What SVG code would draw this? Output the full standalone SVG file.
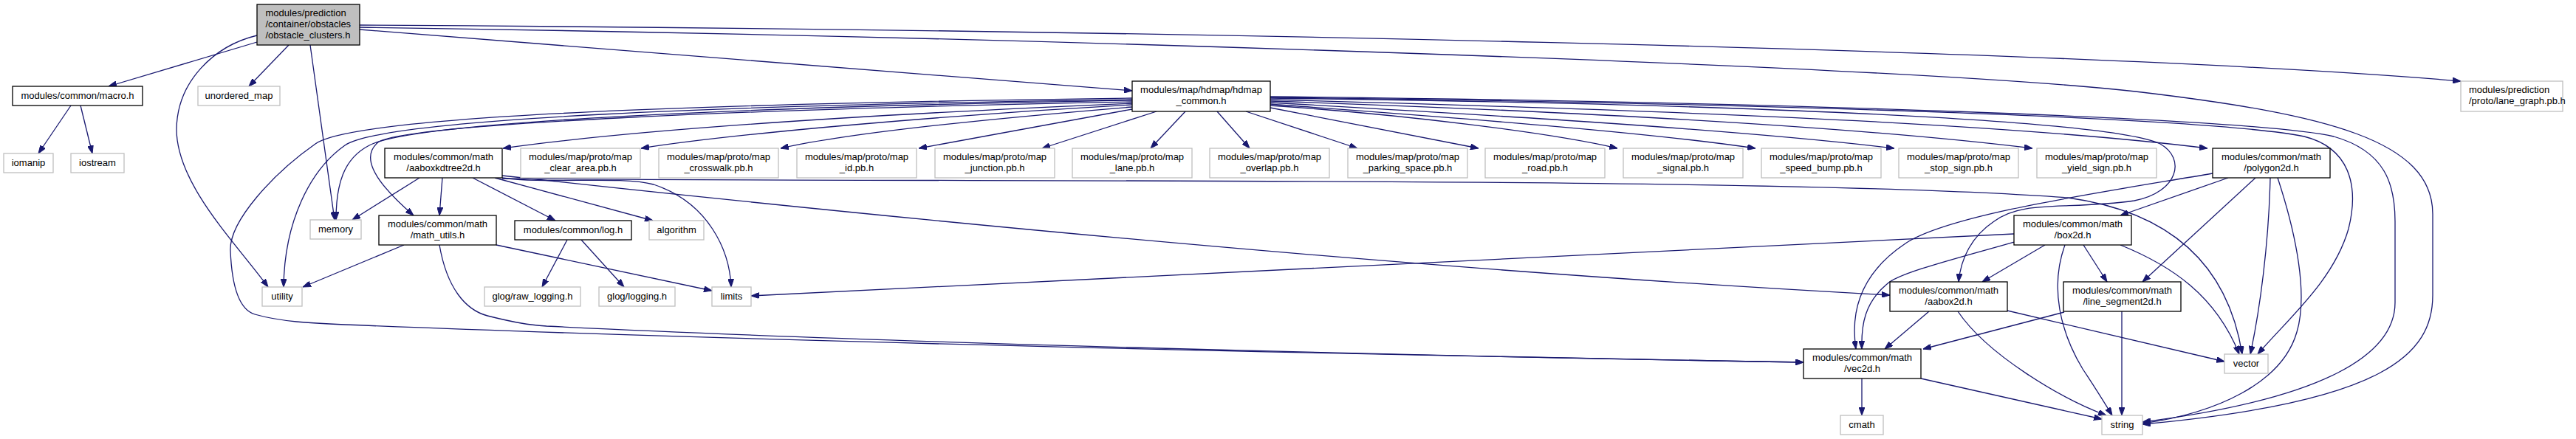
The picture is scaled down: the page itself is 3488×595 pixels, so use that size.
<svg xmlns="http://www.w3.org/2000/svg" width="3488" height="595" viewBox="0 0 3488 595">
<style>
.e{fill:none;stroke:#191970;stroke-width:1.3;marker-end:url(#a)}
.doc{fill:#ffffff;stroke:#000000;stroke-width:1.3}
.ext{fill:#ffffff;stroke:#bfbfbf;stroke-width:1.3}
.root{fill:#bfbfbf;stroke:#000000;stroke-width:1.3}
text{font-family:"Liberation Sans",Arial,Helvetica,sans-serif;font-size:13px;fill:#000000}
.c{text-anchor:middle}
</style>
<defs>
<marker id="a" viewBox="0 0 11 8" refX="11" refY="4" markerWidth="11" markerHeight="8" markerUnits="userSpaceOnUse" orient="auto"><path d="M0,0L11,4L0,8z" fill="#191970" stroke="#191970" stroke-width="1"/></marker>
</defs>
<rect width="3488" height="595" fill="#ffffff"/>
<g id="edges">
<path class="e" d="M348,57 L147,117"/>
<path class="e" d="M391,61 L337,117"/>
<path class="e" d="M420,61 L453,298"/>
<path class="e" d="M348,48 C290,62 240,110 239,175 C239,250 320,330 363,389"/>
<path class="e" d="M487,40 L1533,123"/>
<path class="e" d="M487,34 C1500,40 2800,65 3332,110"/>
<path class="e" d="M487,37 C1400,50 2600,90 2900,125 C3150,155 3294,190 3294,290 L3294,400 C3294,480 3230,545 2901,575"/>
<path class="e" d="M96,143 L52,208"/>
<path class="e" d="M109,143 L125,208"/>
<path class="e" d="M1533,140 C1300,150 900,170 681,201"/>
<path class="e" d="M1533,142 C1300,155 1000,180 868,201"/>
<path class="e" d="M1533,145 C1350,160 1150,180 1057,201"/>
<path class="e" d="M1533,148 L1244,201"/>
<path class="e" d="M1566,151 L1411,201"/>
<path class="e" d="M1605,151 L1558,201"/>
<path class="e" d="M1648,151 L1692,201"/>
<path class="e" d="M1687,151 L1838,201"/>
<path class="e" d="M1720,146 L2002,201"/>
<path class="e" d="M1720,143 C1900,155 2100,180 2190,201"/>
<path class="e" d="M1720,141 C1900,155 2200,175 2377,201"/>
<path class="e" d="M1720,139 C2000,155 2350,175 2565,201"/>
<path class="e" d="M1720,137 C2100,150 2500,170 2752,201"/>
<path class="e" d="M1720,135 C2200,148 2700,165 2989,201"/>
<path class="e" d="M1720,133 C2300,140 2850,160 2925,195 C2960,215 2950,260 2890,272 C2800,285 2740,270 2700,300 C2670,320 2655,350 2652,382"/>
<path class="e" d="M1720,132 C2400,140 3000,160 3120,185 C3180,200 3195,250 3180,310 C3160,380 3100,430 3057,480"/>
<path class="e" d="M1720,131 C2400,138 3050,160 3160,185 C3230,205 3243,250 3243,300 L3243,410 C3243,480 3150,540 2901,572"/>
<path class="e" d="M1533,136 C1000,145 560,165 500,197 C465,215 455,250 455,298"/>
<path class="e" d="M1533,135 C1000,142 520,160 467,197 C420,230 385,300 384,389"/>
<path class="e" d="M1533,138 C1000,148 560,168 513,192 C490,210 500,240 560,292"/>
<path class="e" d="M1533,133 C1000,140 480,155 427,195 C370,235 310,300 312,340 C314,390 325,420 345,426 C380,436 420,438 467,440 C1000,462 1800,480 2442,491"/>
<path class="e" d="M595,332 C605,390 630,420 660,428 C700,438 715,440 740,442 C1200,465 1900,482 2442,491"/>
<path class="e" d="M568,241 L477,298"/>
<path class="e" d="M599,241 L595,292"/>
<path class="e" d="M640,241 L752,299"/>
<path class="e" d="M670,241 L884,299"/>
<path class="e" d="M680,241 C740,250 840,238 885,250 C960,275 988,340 990,389"/>
<path class="e" d="M680,238 C1200,295 1900,365 2559,400"/>
<path class="e" d="M680,242 C1300,248 2400,238 2800,268 C2960,290 3020,380 3036,480"/>
<path class="e" d="M547,332 L410,389"/>
<path class="e" d="M672,332 L964,394"/>
<path class="e" d="M768,325 L734,389"/>
<path class="e" d="M787,325 L845,389"/>
<path class="e" d="M2727,317 L1017,401"/>
<path class="e" d="M2769,332 L2684,382"/>
<path class="e" d="M2821,332 L2853,382"/>
<path class="e" d="M2727,328 C2650,350 2570,370 2555,385 C2525,410 2520,440 2521,473"/>
<path class="e" d="M2796,332 C2775,390 2790,450 2820,500 C2840,530 2852,550 2860,563"/>
<path class="e" d="M2871,332 C2940,360 3000,400 3032,480"/>
<path class="e" d="M2612,422 L2552,473"/>
<path class="e" d="M2651,422 C2690,480 2790,540 2852,563"/>
<path class="e" d="M2718,421 L3012,490"/>
<path class="e" d="M2795,423 L2604,473"/>
<path class="e" d="M2873,422 L2873,563"/>
<path class="e" d="M2521,513 L2521,563"/>
<path class="e" d="M2601,513 L2846,568"/>
<path class="e" d="M3017,241 L2871,292"/>
<path class="e" d="M3054,241 L2901,382"/>
<path class="e" d="M3074,241 C3072,330 3060,420 3047,480"/>
<path class="e" d="M3084,241 C3110,320 3125,400 3110,450 C3090,520 3000,560 2901,574"/>
<path class="e" d="M2996,235 C2850,260 2640,290 2580,330 C2520,370 2505,420 2513,473"/>
</g>
<g id="n-root"><rect class="root" x="348" y="6" width="139" height="55"/><text x="359.5" y="22">modules/prediction</text><text x="359.5" y="37">/container/obstacles</text><text x="359.5" y="52">/obstacle_clusters.h</text></g>
<g id="n-macro"><rect class="doc" x="17" y="117" width="176" height="26"/><text class="c" x="105" y="134">modules/common/macro.h</text></g>
<g id="n-unordered_map"><rect class="ext" x="268" y="117" width="111" height="26"/><text class="c" x="323.5" y="134">unordered_map</text></g>
<g id="n-hdmap_common"><rect class="doc" x="1533" y="110" width="187" height="41"/><text class="c" x="1626.5" y="126">modules/map/hdmap/hdmap</text><text class="c" x="1626.5" y="141">_common.h</text></g>
<g id="n-lane_graph"><rect class="ext" x="3332" y="110" width="138" height="41"/><text x="3343" y="126">modules/prediction</text><text x="3343" y="141">/proto/lane_graph.pb.h</text></g>
<g id="n-iomanip"><rect class="ext" x="5" y="208" width="67" height="26"/><text class="c" x="38.5" y="225">iomanip</text></g>
<g id="n-iostream"><rect class="ext" x="96" y="208" width="72" height="26"/><text class="c" x="132" y="225">iostream</text></g>
<g id="n-aaboxkdtree2d"><rect class="doc" x="521" y="201" width="159" height="40"/><text class="c" x="600.5" y="217">modules/common/math</text><text class="c" x="600.5" y="232">/aaboxkdtree2d.h</text></g>
<g id="n-clear_area"><rect class="ext" x="705" y="201" width="162" height="40"/><text class="c" x="786" y="217">modules/map/proto/map</text><text class="c" x="786" y="232">_clear_area.pb.h</text></g>
<g id="n-crosswalk"><rect class="ext" x="892" y="201" width="162" height="40"/><text class="c" x="973" y="217">modules/map/proto/map</text><text class="c" x="973" y="232">_crosswalk.pb.h</text></g>
<g id="n-id"><rect class="ext" x="1079" y="201" width="162" height="40"/><text class="c" x="1160" y="217">modules/map/proto/map</text><text class="c" x="1160" y="232">_id.pb.h</text></g>
<g id="n-junction"><rect class="ext" x="1266" y="201" width="162" height="40"/><text class="c" x="1347" y="217">modules/map/proto/map</text><text class="c" x="1347" y="232">_junction.pb.h</text></g>
<g id="n-lane"><rect class="ext" x="1452" y="201" width="162" height="40"/><text class="c" x="1533" y="217">modules/map/proto/map</text><text class="c" x="1533" y="232">_lane.pb.h</text></g>
<g id="n-overlap"><rect class="ext" x="1638" y="201" width="162" height="40"/><text class="c" x="1719" y="217">modules/map/proto/map</text><text class="c" x="1719" y="232">_overlap.pb.h</text></g>
<g id="n-parking_space"><rect class="ext" x="1825" y="201" width="162" height="40"/><text class="c" x="1906" y="217">modules/map/proto/map</text><text class="c" x="1906" y="232">_parking_space.pb.h</text></g>
<g id="n-road"><rect class="ext" x="2011" y="201" width="162" height="40"/><text class="c" x="2092" y="217">modules/map/proto/map</text><text class="c" x="2092" y="232">_road.pb.h</text></g>
<g id="n-signal"><rect class="ext" x="2198" y="201" width="162" height="40"/><text class="c" x="2279" y="217">modules/map/proto/map</text><text class="c" x="2279" y="232">_signal.pb.h</text></g>
<g id="n-speed_bump"><rect class="ext" x="2385" y="201" width="162" height="40"/><text class="c" x="2466" y="217">modules/map/proto/map</text><text class="c" x="2466" y="232">_speed_bump.pb.h</text></g>
<g id="n-stop_sign"><rect class="ext" x="2571" y="201" width="162" height="40"/><text class="c" x="2652" y="217">modules/map/proto/map</text><text class="c" x="2652" y="232">_stop_sign.pb.h</text></g>
<g id="n-yield_sign"><rect class="ext" x="2758" y="201" width="162" height="40"/><text class="c" x="2839" y="217">modules/map/proto/map</text><text class="c" x="2839" y="232">_yield_sign.pb.h</text></g>
<g id="n-polygon2d"><rect class="doc" x="2996" y="201" width="159" height="40"/><text class="c" x="3075.5" y="217">modules/common/math</text><text class="c" x="3075.5" y="232">/polygon2d.h</text></g>
<g id="n-memory"><rect class="ext" x="420" y="298" width="69" height="26"/><text class="c" x="454.5" y="315">memory</text></g>
<g id="n-math_utils"><rect class="doc" x="513" y="292" width="159" height="40"/><text class="c" x="592.5" y="308">modules/common/math</text><text class="c" x="592.5" y="323">/math_utils.h</text></g>
<g id="n-log"><rect class="doc" x="697" y="299" width="158" height="26"/><text class="c" x="776" y="316">modules/common/log.h</text></g>
<g id="n-algorithm"><rect class="ext" x="879" y="299" width="74" height="26"/><text class="c" x="916" y="316">algorithm</text></g>
<g id="n-box2d"><rect class="doc" x="2727" y="292" width="159" height="40"/><text class="c" x="2806.5" y="308">modules/common/math</text><text class="c" x="2806.5" y="323">/box2d.h</text></g>
<g id="n-utility"><rect class="ext" x="355" y="389" width="54" height="26"/><text class="c" x="382" y="406">utility</text></g>
<g id="n-raw_logging"><rect class="ext" x="656" y="389" width="130" height="26"/><text class="c" x="721" y="406">glog/raw_logging.h</text></g>
<g id="n-logging"><rect class="ext" x="811" y="389" width="103" height="26"/><text class="c" x="862.5" y="406">glog/logging.h</text></g>
<g id="n-limits"><rect class="ext" x="964" y="389" width="53" height="26"/><text class="c" x="990.5" y="406">limits</text></g>
<g id="n-aabox2d"><rect class="doc" x="2559" y="382" width="159" height="40"/><text class="c" x="2638.5" y="398">modules/common/math</text><text class="c" x="2638.5" y="413">/aabox2d.h</text></g>
<g id="n-line_segment2d"><rect class="doc" x="2794" y="382" width="159" height="40"/><text class="c" x="2873.5" y="398">modules/common/math</text><text class="c" x="2873.5" y="413">/line_segment2d.h</text></g>
<g id="n-vector"><rect class="ext" x="3012" y="480" width="59" height="26"/><text class="c" x="3041.5" y="497">vector</text></g>
<g id="n-vec2d"><rect class="doc" x="2442" y="473" width="159" height="40"/><text class="c" x="2521.5" y="489">modules/common/math</text><text class="c" x="2521.5" y="504">/vec2d.h</text></g>
<g id="n-cmath"><rect class="ext" x="2492" y="563" width="58" height="26"/><text class="c" x="2521" y="580">cmath</text></g>
<g id="n-string"><rect class="ext" x="2846" y="563" width="55" height="26"/><text class="c" x="2873.5" y="580">string</text></g>
</svg>
